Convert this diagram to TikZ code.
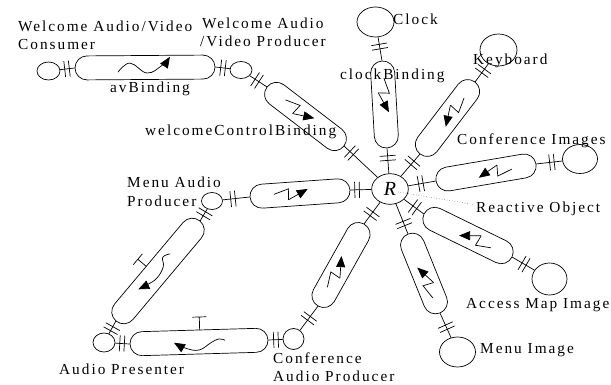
\documentclass[tikz,border=0pt]{standalone}
\usepackage{fontspec}
\setmainfont{Liberation Serif}[LetterSpace=13]
\usetikzlibrary{calc,shapes.geometric,shapes.misc,decorations.markings,arrows.meta}

\tikzset{
  ln/.style={line width=0.7pt},
  port/.style={ln, draw, ellipse, inner sep=0pt},
  bindshape/.style={ln, draw, rounded rectangle, inner sep=0pt, minimum height=24pt},
  dbar/.style={postaction={decorate}, decoration={markings,
      mark=at position #1 with {\draw[ln] (-2.3pt,-8pt) -- (-2.3pt,8pt) (2.3pt,-8pt) -- (2.3pt,8pt);}}},
  lbl/.style={inner sep=0pt, anchor=base west, font=\fontsize{15.3}{18}\selectfont},
  arrowhd/.style={-{Triangle[length=11pt,width=9pt]}},
  bolt/.pic={\begin{scope}[y=1pt]
      \draw[ln] (-26,1) -- (-11,5.5) -- (-12,-5.5);
      \draw[ln, arrowhd] (-12,-5.5) -- (8,4);
    \end{scope}},
  waveA/.pic={\begin{scope}[y=1pt]
      \draw[ln, arrowhd] plot[smooth, tension=0.7] coordinates {(-27,-4.5) (-15,4.5) (2,-5.5) (17,2) (25,10.5)};
    \end{scope}},
  waveB/.pic={\begin{scope}[y=1pt]
      \draw[ln, arrowhd] plot[smooth, tension=0.7] coordinates {(-21,-1.7) (-13.5,-5.2) (-6.7,1.3) (6.4,3.7) (18,0.3) (26.7,-3.3)};
      \draw[ln] (4,-12) -- (4,-23) (-3,-23) -- (11,-23);
    \end{scope}},
  waveC/.pic={\begin{scope}[y=1pt]
      \draw[ln, arrowhd] plot[smooth, tension=0.7] coordinates {(-26,-1) (-20,-2.5) (-12,1) (0,8) (13,6) (25,0)};
      \draw[ln] (-1,-12) -- (-1,-25) (-8,-25) -- (6,-25);
    \end{scope}},
}

% capsule-shaped binding: name, start tip, end tip, symbol pic, pic options
\newcommand\bindingcap[5]{%
  \path let \p1=($#3-#2$), \n1={atan2(\y1,\x1)}, \n2={veclen(\x1,\y1)} in
    node[bindshape, rotate=\n1, minimum width=\n2] (#1) at ($#2!0.5!#3$) {}
    ($#2!0.5!#3$) pic[rotate=\n1,#5]{#4};}

\begin{document}
\begin{tikzpicture}[x=1pt,y=-1pt]
\useasboundingbox (0,0) rectangle (611,385);

% reactive object
\node[port, minimum width=36.6pt, minimum height=30.6pt] (R) at (390,189)
  {\fontsize{20}{20}\selectfont\itshape R};

% ports
\node[port, minimum width=23pt, minimum height=18pt] (cons) at (48.5,71) {};
\node[port, minimum width=22pt, minimum height=17pt] (wprod) at (241,70) {};
\node[port, minimum width=37pt, minimum height=30pt] (clk) at (375.5,22) {};
\node[port, minimum width=37pt, minimum height=32pt] (kb) at (498.5,50) {};
\node[port, minimum width=35pt, minimum height=29pt] (ci) at (580,159) {};
\node[port, minimum width=35pt, minimum height=32pt] (am) at (549.5,279) {};
\node[port, minimum width=36pt, minimum height=30pt] (mi) at (457.5,352) {};
\node[port, minimum width=21pt, minimum height=21pt] (caud) at (293.5,339) {};
\node[port, minimum width=21pt, minimum height=17pt] (map) at (212,201) {};
\node[port, minimum width=22pt, minimum height=19pt] (ap) at (104,342.5) {};

% bindings
\bindingcap{cAV}{(75,68)}{(215,67)}{waveA}{}
\bindingcap{cWC}{(267,87)}{(344,146)}{bolt}{}
\bindingcap{cClk}{(382,61)}{(387,148)}{bolt}{}
\bindingcap{cKb}{(475,82)}{(420,154)}{bolt}{}
\bindingcap{cCI}{(536,164)}{(436,181)}{bolt}{}
\bindingcap{cAM}{(512,257)}{(424,214)}{bolt}{}
\bindingcap{cMI}{(440,313)}{(408,234)}{bolt}{}
\bindingcap{cCA}{(318,306)}{(364,224)}{bolt}{}
\bindingcap{cMA}{(250,197)}{(350,190)}{bolt}{}
\bindingcap{cD}{(200,221)}{(116,321)}{waveB}{}
\bindingcap{cB}{(268,340)}{(130,344)}{waveC}{}

% interfaces
\draw[ln, dbar=0.47] (cons) -- (cAV.west);
\draw[ln, dbar=0.53] (cAV.east) -- (wprod);
\draw[ln, dbar=0.43] (wprod) -- (cWC.west);
\draw[ln, dbar=0.22] (cWC.east) -- (R);
\draw[ln, dbar=0.4] (clk) -- (cClk.west);
\draw[ln, dbar=0.39] (cClk.east) -- (R);
\draw[ln, dbar=0.4] (kb) -- (cKb.west);
\draw[ln, dbar=0.39] (cKb.east) -- (R);
\draw[ln, dbar=0.4] (ci) -- (cCI.west);
\draw[ln, dbar=0.54] (cCI.east) -- (R);
\draw[ln, dbar=0.47] (am) -- (cAM.west);
\draw[ln, dbar=0.45] (cAM.east) -- (R);
\draw[ln, dbar=0.43] (mi) -- (cMI.west);
\draw[ln, dbar=0.34] (cMI.east) -- (R);
\draw[ln, dbar=0.5] (caud) -- (cCA.west);
\draw[ln, dbar=0.46] (cCA.east) -- (R);
\draw[ln, dbar=0.38] (map) -- (cMA.west);
\draw[ln, dbar=0.32] (cMA.east) -- (R);
\draw[ln, dbar=0.41] (map) -- (cD.west);
\draw[ln, dbar=0.6] (cD.east) -- (ap);
\draw[ln, dbar=0.47] (caud) -- (cB.west);
\draw[ln, dbar=0.53] (cB.east) -- (ap);

% labels
\node[lbl] at (18,32) {Welcome Audio/Video};
\node[lbl] at (18,50) {Consumer};
\node[lbl] at (202,29) {Welcome Audio};
\node[lbl] at (200,47) {/Video Producer};
\node[lbl] at (110,93) {avBinding};
\node[lbl] at (145,136) {welcomeControlBinding};
\node[lbl] at (340,80) {clockBinding};
\node[lbl] at (393,25) {Clock};
\node[lbl] at (473,65) {Keyboard};
\node[lbl] at (457,145) {Conference Images};
\node[lbl] (ro) at (476,213) {Reactive Object};
\node[lbl] at (466,308) {Access Map Image};
\node[lbl] at (480,353) {Menu Image};
\node[lbl] at (273,363) {Conference};
\node[lbl] at (273,381) {Audio Producer};
\node[lbl] at (127,188) {Menu Audio};
\node[lbl] at (127,207) {Producer};
\node[lbl] at (59,374) {Audio Presenter};

\draw[gray, dotted, line width=0.6pt] ($(R.center)+(8,3)$) -- ($(ro.west)+(-3,-5)$);
\end{tikzpicture}
\end{document}
